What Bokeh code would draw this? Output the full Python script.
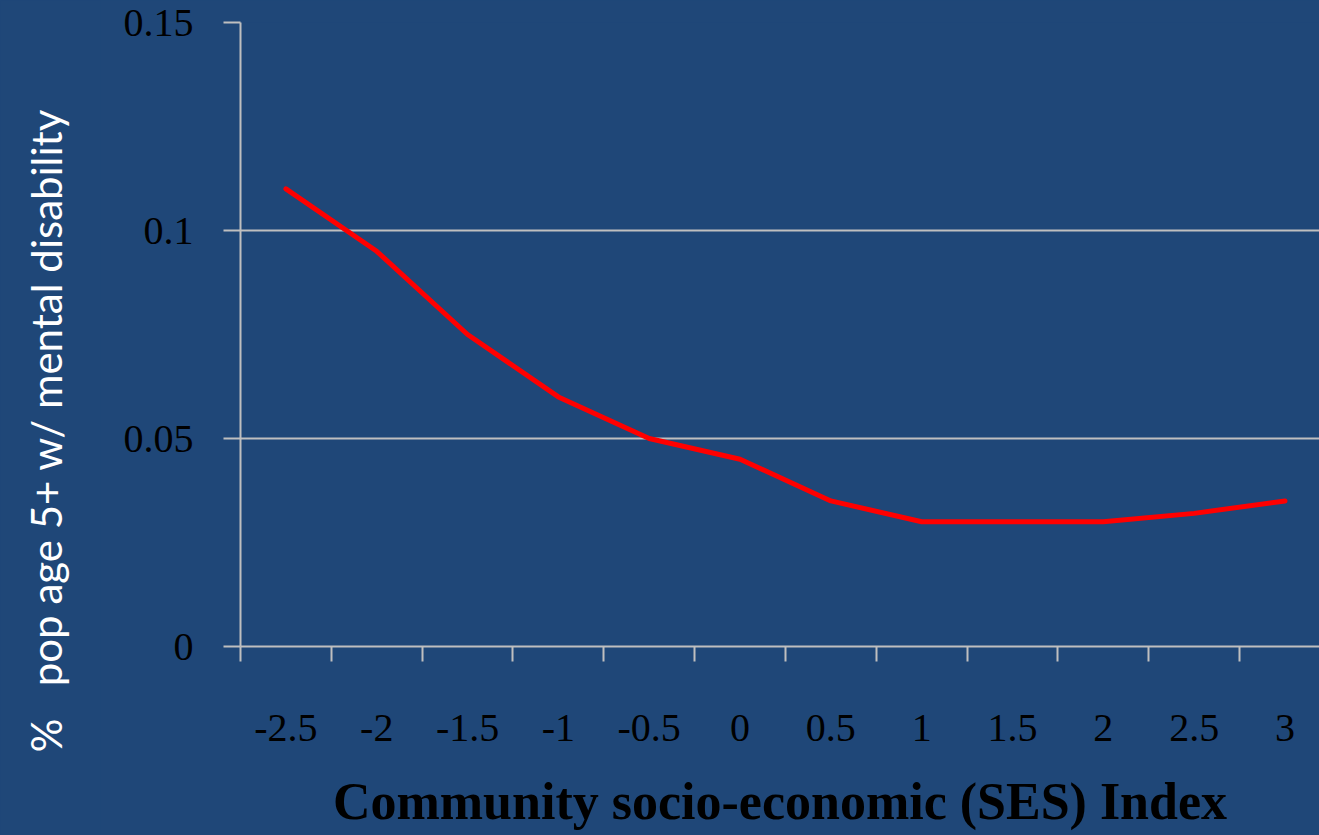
import math
from bokeh.plotting import figure
from bokeh.models import Range1d, FixedTicker
from bokeh.layouts import row
from bokeh.core.properties import value
from bokeh.embed import file_html
from bokeh.resources import INLINE

# ---- data ----
categories = ["-2.5", "-2", "-1.5", "-1", "-0.5", "0", "0.5", "1", "1.5", "2", "2.5", "3"]
values = [0.110, 0.095, 0.075, 0.060, 0.050, 0.045, 0.035, 0.030, 0.030, 0.030, 0.032, 0.035]
y_ticks = [0, 0.05, 0.1, 0.15]
y_tick_labels = ["0", "0.05", "0.1", "0.15"]
x_title = "Community socio-economic (SES) Index"
y_title = "%\u00a0\u00a0\u00a0pop age 5+ w/ mental disability"

BG = "#1F4778"
GRID = "#BFBFBF"
SERIF = "Liberation Serif"
W, H = 1319, 835
LEFT_W = 100

n = len(categories)
xs = [i + 0.5 for i in range(n)]

# ---- y-axis title strip ----
t = figure(width=LEFT_W, height=H, output_backend="svg", toolbar_location=None,
           x_range=Range1d(0, LEFT_W), y_range=Range1d(H, 0),
           x_axis_type=None, y_axis_type=None,
           min_border_left=0, min_border_right=0, min_border_top=0, min_border_bottom=0)
t.frame_align = False
t.background_fill_color = BG
t.border_fill_color = BG
t.outline_line_color = None
t.grid.visible = False
t.text(x=[45], y=[430], text=[y_title], angle=math.pi / 2,
       text_align="center", text_baseline="alphabetic",
       text_font=value("Lato"), text_font_size="42px", text_color="white")

# ---- main chart ----
p = figure(width=W - LEFT_W, height=H, output_backend="svg", toolbar_location=None,
           x_range=Range1d(0, 11.88), y_range=Range1d(0, 0.15),
           min_border_left=240 - LEFT_W, min_border_right=0, min_border_top=22,
           min_border_bottom=189)
p.frame_align = False
p.background_fill_color = BG
p.border_fill_color = BG
p.outline_line_color = None

p.line(xs, values, line_color="#FF0000", line_width=5,
       line_join="round", line_cap="round")

# x axis
xa = p.xaxis[0]
xa.ticker = FixedTicker(ticks=xs, minor_ticks=list(range(n + 1)))
xa.major_label_overrides = {x: c for x, c in zip(xs, categories)}
xa.major_tick_line_color = None
xa.major_tick_out = 0
xa.major_tick_in = 0
xa.minor_tick_out = 15
xa.minor_tick_in = 0
xa.minor_tick_line_color = GRID
xa.minor_tick_line_width = 2
xa.axis_line_color = GRID
xa.axis_line_width = 2
xa.major_label_text_font = SERIF
xa.major_label_text_font_size = "40px"
xa.major_label_text_color = "black"
xa.major_label_standoff = 53
xa.axis_label = x_title
xa.axis_label_text_font = SERIF
xa.axis_label_text_font_style = "bold"
xa.axis_label_text_font_size = "52px"
xa.axis_label_text_color = "black"
xa.axis_label_standoff = 29

# y axis
ya = p.yaxis[0]
ya.ticker = FixedTicker(ticks=y_ticks)
ya.major_label_overrides = {t_: l for t_, l in zip(y_ticks, y_tick_labels)}
ya.major_tick_out = 17
ya.major_tick_in = 0
ya.major_tick_line_color = GRID
ya.major_tick_line_width = 2
ya.minor_tick_line_color = None
ya.axis_line_color = GRID
ya.axis_line_width = 2
ya.major_label_text_font = SERIF
ya.major_label_text_font_size = "40px"
ya.major_label_text_color = "black"
ya.major_label_standoff = 30

p.xgrid.grid_line_color = None
p.ygrid.ticker = FixedTicker(ticks=y_ticks)
p.ygrid.grid_line_color = GRID
p.ygrid.grid_line_width = 2

layout = row(t, p, spacing=0, styles={"background-color": BG})
open("out.html", "w").write(file_html(layout, INLINE))
